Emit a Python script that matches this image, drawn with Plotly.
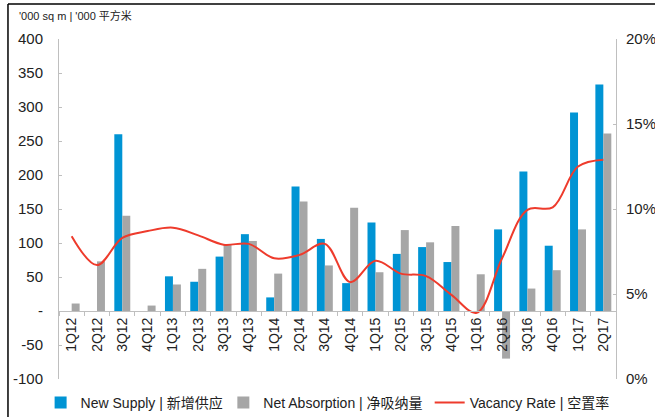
import plotly.graph_objects as go

quarters = ["1Q12", "2Q12", "3Q12", "4Q12", "1Q13", "2Q13", "3Q13", "4Q13",
            "1Q14", "2Q14", "3Q14", "4Q14", "1Q15", "2Q15", "3Q15", "4Q15",
            "1Q16", "2Q16", "3Q16", "4Q16", "1Q17", "2Q17"]
new_supply = [0, 0, 260, 0, 51, 43, 80, 113, 20, 183, 106, 41,
              130, 84, 94, 72, 0, 120, 205, 96, 292, 333]
net_absorption = [11, 73, 140, 8, 39, 62, 97, 103, 55, 161, 67, 152,
                  57, 119, 101, 125, 54, -70, 33, 60, 120, 261]
vacancy_rate = [0.084, 0.067, 0.083, 0.087, 0.089, 0.0845, 0.079, 0.0795,
                0.071, 0.073, 0.0795, 0.057, 0.0695, 0.062, 0.0605, 0.0495,
                0.039, 0.071, 0.0995, 0.101, 0.125, 0.129]
left_ticks = [-100, -50, 0, 50, 100, 150, 200, 250, 300, 350, 400]
left_tick_text = ["-100", "-50", "-", "50", "100", "150", "200", "250", "300", "350", "400"]
right_ticks = [0, 0.05, 0.10, 0.15, 0.20]
right_tick_text = ["0%", "5%", "10%", "15%", "20%"]

BLUE = "#0094d4"
GRAY = "#a6a6a6"
RED = "#ee3b2c"
AXIS = "#bfbfbf"
FONT = "Liberation Sans, Arial, Noto Sans CJK SC, sans-serif"

fig = go.Figure()
fig.add_trace(go.Bar(x=quarters, y=new_supply, name="New Supply | 新增供应",
                     marker=dict(color=BLUE, line=dict(width=0)), legend="legend"))
fig.add_trace(go.Bar(x=quarters, y=net_absorption, name="Net Absorption | 净吸纳量",
                     marker=dict(color=GRAY, line=dict(width=0)), legend="legend2"))
fig.add_trace(go.Scatter(x=quarters, y=vacancy_rate, name="Vacancy Rate | 空置率",
                         mode="lines", yaxis="y2", legend="legend3",
                         line=dict(color=RED, width=2, shape="spline", smoothing=1)))


def legend_at(xfrac):
    return dict(orientation="h", xref="container", yref="container",
                x=xfrac, xanchor="left", y=0.034, yanchor="middle",
                font=dict(size=14, family=FONT), bgcolor="rgba(0,0,0,0)",
                itemwidth=30)


fig.update_layout(
    width=655, height=417,
    margin=dict(l=59, r=39, t=39, b=38, autoexpand=False),
    paper_bgcolor="white", plot_bgcolor="white",
    font=dict(family=FONT, color="#222222", size=15),
    barmode="group", bargap=0.37, bargroupgap=0,
    showlegend=True,
    legend=legend_at(0.062),
    legend2=legend_at(0.341),
    legend3=legend_at(0.656),
    xaxis=dict(type="category", anchor="free", position=0.2,
               showline=True, linecolor=AXIS, linewidth=1,
               ticks="outside", tickson="boundaries", ticklen=4, tickcolor=AXIS,
               tickangle=-90, tickfont=dict(size=14),
               showgrid=False, zeroline=False, automargin=False),
    yaxis=dict(range=[-100, 400], tickvals=left_ticks, ticktext=left_tick_text,
               showline=True, linecolor=AXIS, linewidth=1,
               ticks="inside", ticklen=3, tickcolor=AXIS,
               showgrid=False, zeroline=False, tickfont=dict(size=15),
               ticklabelstandoff=12, automargin=False),
    yaxis2=dict(range=[0, 0.2], tickvals=right_ticks, ticktext=right_tick_text,
                overlaying="y", side="right",
                showline=True, linecolor=AXIS, linewidth=1,
                ticks="inside", ticklen=3, tickcolor=AXIS,
                showgrid=False, zeroline=False, tickfont=dict(size=15),
                ticklabelstandoff=6, automargin=False),
    annotations=[dict(text="'000 sq m | '000 平方米", xref="paper", yref="paper",
                      x=-0.075, y=1.07, xanchor="left", yanchor="middle",
                      showarrow=False, font=dict(size=11, family=FONT))],
    shapes=[
        dict(type="line", xref="paper", yref="paper", x0=-0.0916, x1=1.08,
             y0=1.103, y1=1.103, line=dict(color="black", width=1.5)),
        dict(type="line", xref="paper", yref="paper", x0=-0.0916, x1=-0.0916,
             y0=1.103, y1=-0.12, line=dict(color="black", width=1.5)),
    ],
)

fig.write_html("out.html", config={"displayModeBar": False},
               post_script="document.body.style.margin='0';document.body.style.overflow='hidden';")
